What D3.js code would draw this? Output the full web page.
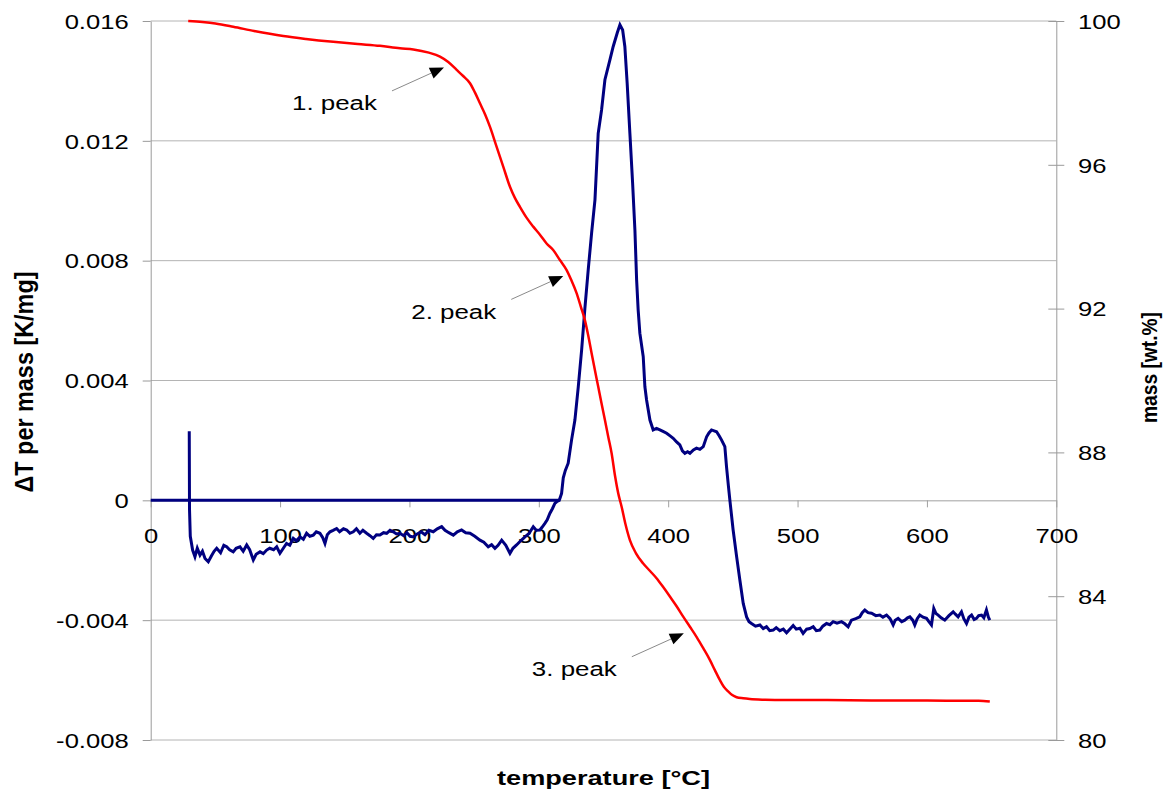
<!DOCTYPE html>
<html><head><meta charset="utf-8">
<script src="https://cdn.jsdelivr.net/npm/d3@7"></script>
<style>
body{margin:0;background:#fff}
svg{display:block}
text{font-family:"Liberation Sans",Arial,Helvetica,sans-serif;fill:#000}
</style>
</head><body>
<svg id="chart" width="1165" height="793"></svg>
<script>
// ---------- data ----------
const tempTicks = [0, 100, 200, 300, 400, 500, 600, 700];
const dtaTicks = [-0.008, -0.004, 0, 0.004, 0.008, 0.012, 0.016];
const dtaTickLabels = ["-0.008", "-0.004", "0", "0.004", "0.008", "0.012", "0.016"];
const massTicks = [80, 84, 88, 92, 96, 100];
const massTickLabels = ["80", "84", "88", "92", "96", "100"];

// DTA signal (ΔT per mass) – temperature / value
const dtaT = [29.8,30.0,30.6,32.4,34.2,36.0,38.1,40.0,42.0,44.5,47.0,49.0,51.0,54.0,56.5,58.7,61.0,63.8,66.0,69.0,71.5,74.2,76.5,79.3,81.5,84.5,87.0,89.6,92.0,95.0,97.4,99.9,102.5,105.0,107.5,110.2,112.5,115.4,118.0,120.5,123.0,125.7,128.0,130.8,133.0,134.7,136.5,138.6,141.0,143.7,146.0,149.0,151.5,154.0,156.6,159.0,161.7,164.0,166.9,169.5,172.0,174.5,177.2,180.0,182.4,185.0,187.5,190.0,192.7,195.5,198.0,200.5,203.0,206.0,209.0,212.0,215.0,218.4,221.5,224.9,227.5,230.5,233.9,237.0,240.3,243.5,246.8,250.5,254.5,257.5,260.9,263.5,266.1,268.5,271.3,274.5,277.7,280.0,282.8,286.0,289.3,292.5,295.7,298.0,300.8,302.5,304.7,306.5,308.6,310.5,312.4,314.0,315.8,317.6,318.9,320.5,322.7,325.3,327.9,330.5,333.1,335.6,338.2,340.8,343.4,345.9,348.5,351.1,355.0,357.5,360.6,362.7,364.8,366.5,368.3,370.4,372.5,374.3,375.6,376.8,378.1,380.7,382.0,383.3,385.9,388.4,391.0,393.6,396.0,398.8,401.5,403.9,406.5,409.0,411.0,412.9,415.0,416.8,419.5,421.9,424.5,427.1,429.7,431.5,433.5,435.5,437.4,439.5,441.3,443.8,445.1,446.5,447.7,450.2,452.9,455.4,458.0,460.6,462.5,464.4,467.5,470.9,473.5,476.0,478.5,481.2,483.5,486.3,489.0,491.5,494.0,496.6,499.0,501.8,504.3,507.0,509.5,512.1,514.5,517.2,519.5,522.4,525.0,527.5,530.5,534.0,536.5,539.1,541.7,545.0,548.1,550.0,552.0,554.5,557.2,560.5,563.6,566.0,568.8,571.5,573.9,575.5,577.7,580.5,582.9,585.0,586.8,589.0,590.6,592.5,594.5,597.0,599.7,601.5,603.5,605.3,607.0,608.7,611.0,613.8,617.0,620.3,622.0,624.1,626.7,628.5,630.6,632.5,634.5,636.5,638.3,640.0,642.2,644.0,646.0,647.5,648.6];
const dtaV = [0.00231,-0.0003,-0.00120,-0.00166,-0.00188,-0.00160,-0.00183,-0.00170,-0.00194,-0.00205,-0.00185,-0.00170,-0.00160,-0.00175,-0.00150,-0.00155,-0.00165,-0.00172,-0.00160,-0.00155,-0.00170,-0.00149,-0.00165,-0.00199,-0.00180,-0.00172,-0.00178,-0.00166,-0.00160,-0.00165,-0.00155,-0.00177,-0.00160,-0.00144,-0.00150,-0.00127,-0.00135,-0.00122,-0.00130,-0.00110,-0.00120,-0.00116,-0.00105,-0.00110,-0.00125,-0.00144,-0.00115,-0.00105,-0.00100,-0.00094,-0.00105,-0.00095,-0.00099,-0.00110,-0.00105,-0.00095,-0.00110,-0.00100,-0.00110,-0.00118,-0.00127,-0.00115,-0.00116,-0.00108,-0.00110,-0.00100,-0.00105,-0.00112,-0.00110,-0.00118,-0.00108,-0.00120,-0.00122,-0.00112,-0.00105,-0.00115,-0.00100,-0.00105,-0.00095,-0.00088,-0.00100,-0.00108,-0.00116,-0.00105,-0.00099,-0.00108,-0.00110,-0.00120,-0.00133,-0.00140,-0.00155,-0.00148,-0.00160,-0.00150,-0.00133,-0.00150,-0.00177,-0.00160,-0.00149,-0.00135,-0.00122,-0.00110,-0.00088,-0.00100,-0.00099,-0.00090,-0.00077,-0.00065,-0.00043,-0.00028,-0.00010,-0.00004,0.00000,0.00023,0.00075,0.00100,0.00124,0.00201,0.00268,0.00379,0.00502,0.00640,0.00770,0.00892,0.01003,0.01225,0.01303,0.01404,0.01471,0.01515,0.01560,0.01587,0.01570,0.01515,0.01392,0.01225,0.01059,0.00900,0.00736,0.00635,0.00558,0.00480,0.00379,0.00335,0.00268,0.00235,0.00240,0.00235,0.00230,0.00224,0.00215,0.00207,0.00195,0.00185,0.00165,0.00157,0.00162,0.00157,0.00168,0.00174,0.00170,0.00179,0.00212,0.00225,0.00235,0.00232,0.00229,0.00215,0.00201,0.00179,0.00112,0.00050,0.00000,-0.00099,-0.00188,-0.00266,-0.00344,-0.00389,-0.00405,-0.00411,-0.00420,-0.00416,-0.00428,-0.00422,-0.00435,-0.00433,-0.00425,-0.00435,-0.00430,-0.00442,-0.00430,-0.00418,-0.00430,-0.00427,-0.00444,-0.00430,-0.00428,-0.00422,-0.00435,-0.00433,-0.00420,-0.00411,-0.00415,-0.00405,-0.00410,-0.00405,-0.00412,-0.00422,-0.00400,-0.00395,-0.00389,-0.00375,-0.00366,-0.00375,-0.00377,-0.00385,-0.00383,-0.00390,-0.00383,-0.00395,-0.00416,-0.00400,-0.00394,-0.00405,-0.00400,-0.00392,-0.00389,-0.00400,-0.00416,-0.00395,-0.00383,-0.00390,-0.00394,-0.00405,-0.00416,-0.00361,-0.00378,-0.00383,-0.00392,-0.00400,-0.00385,-0.00372,-0.00380,-0.00389,-0.00372,-0.00395,-0.00411,-0.00390,-0.00383,-0.00398,-0.00394,-0.00385,-0.00383,-0.00392,-0.00366,-0.00390,-0.00400];

// zero baseline segment of the DTA series
const baseT = [0, 315.8];
const baseV = [0, 0];

// mass (TG) curve
const massT = [29.0,40,50,63.8,80,102.5,120,141.1,160,177.2,192.7,203,215,223.6,230,236.5,241.5,246.8,250.5,254.5,258.5,262.2,267.4,272.5,277.7,281.5,285.4,290.5,295.7,301,306,311.1,316.3,321.5,325,329.2,332.5,335.6,338.2,340.8,343.3,345.9,348.5,351.1,353.7,356.3,358.9,361.4,364.0,367.0,370.4,375.0,380.7,386.0,391.0,396.0,401.3,406.5,411.6,416.8,421.9,427.0,432.2,436.0,439.9,443.0,446.4,449.5,452.9,458,463.1,475,488.9,520,560,600,630,640,648.6];
const massV = [100.00,99.97,99.93,99.84,99.72,99.58,99.50,99.42,99.36,99.31,99.24,99.21,99.12,99.01,98.86,98.64,98.47,98.27,98.02,97.71,97.40,97.06,96.50,95.95,95.39,95.08,94.83,94.53,94.28,94.05,93.81,93.63,93.35,93.07,92.80,92.43,92.05,91.68,91.25,90.76,90.30,89.83,89.36,88.90,88.43,87.97,87.35,86.86,86.49,86.00,85.56,85.20,84.91,84.70,84.50,84.26,83.99,83.72,83.43,83.15,82.87,82.56,82.23,81.95,81.67,81.48,81.35,81.25,81.19,81.16,81.14,81.12,81.11,81.11,81.10,81.10,81.09,81.09,81.07];

// annotations: arrow tips in (temperature, mass) units
const peakLabels = ["1. peak", "2. peak", "3. peak"];
const peakT = [226.7, 318.9, 412.1];
const peakM = [98.71, 92.91, 82.97];

// ---------- layout ----------
const svg = d3.select("#chart");
const L = 150.7, R = 1056.3, T = 21, B = 740;
const FONT = '"Liberation Sans", Arial, Helvetica, sans-serif';
const SX = 1.28; // horizontal stretch of the source picture's text

const x = d3.scaleLinear().domain([0, 700]).range([L, R]);
const yL = d3.scaleLinear().domain([-0.008, 0.016]).range([B, T]);
const yR = d3.scaleLinear().domain([80, 100]).range([B, T]);

function stretch(sel, sx) {
  sel.each(function () {
    const t = d3.select(this);
    const tx = +t.attr("x") || 0, ty = +t.attr("y") || 0;
    t.attr("x", 0).attr("y", 0).attr("transform", `translate(${tx},${ty}) scale(${sx},1)`);
  });
}

// gridlines
svg.append("g").selectAll("line").data(dtaTicks.filter(d => d !== 0)).join("line")
  .attr("x1", L).attr("x2", R)
  .attr("y1", d => yL(d)).attr("y2", d => yL(d))
  .attr("stroke", "#b4b4b4").attr("stroke-width", 1);

// left axis
const gL = svg.append("g").attr("transform", `translate(${L},0)`)
  .call(d3.axisLeft(yL).tickValues(dtaTicks).tickFormat((d, i) => dtaTickLabels[i])
    .tickSize(8).tickSizeOuter(0).tickPadding(14));
gL.attr("font-size", 20).attr("font-family", FONT);
gL.select(".domain").attr("stroke", "#9a9a9a");
gL.selectAll(".tick line").attr("stroke", "#9a9a9a");
gL.selectAll(".tick text").attr("dy", "0.36em");
stretch(gL.selectAll(".tick text"), SX);

// right axis
const gR = svg.append("g").attr("transform", `translate(${R},0)`)
  .call(d3.axisRight(yR).tickValues(massTicks).tickFormat((d, i) => massTickLabels[i])
    .tickSize(8).tickSizeOuter(0).tickPadding(13.7));
gR.attr("font-size", 20).attr("font-family", FONT);
gR.select(".domain").attr("stroke", "#9a9a9a");
gR.selectAll(".tick line").attr("x1", -8).attr("x2", 8).attr("stroke", "#9a9a9a");
gR.selectAll(".tick text").attr("dy", "0.36em");
stretch(gR.selectAll(".tick text"), SX);

// bottom axis at ΔT = 0
const gB = svg.append("g").attr("transform", `translate(0,${yL(0)})`)
  .call(d3.axisBottom(x).tickValues(tempTicks).tickSize(7).tickSizeOuter(0).tickPadding(21.7));
gB.attr("font-size", 20).attr("font-family", FONT);
gB.select(".domain").attr("stroke", "#a0a0a0");
gB.selectAll(".tick line").attr("stroke", "#a0a0a0");
stretch(gB.selectAll(".tick text"), SX);

// series
const lineDta = d3.line().x(i => x(dtaT[i])).y(i => yL(dtaV[i]));
const lineBase = d3.line().x(i => x(baseT[i])).y(i => yL(baseV[i]));
const lineMass = d3.line().x(i => x(massT[i])).y(i => yR(massV[i])).curve(d3.curveMonotoneX);

svg.append("path").attr("d", lineBase(d3.range(baseT.length)))
  .attr("fill", "none").attr("stroke", "#000080").attr("stroke-width", 3);
svg.append("path").attr("d", lineDta(d3.range(dtaT.length)))
  .attr("fill", "none").attr("stroke", "#000080").attr("stroke-width", 3).attr("stroke-linejoin", "miter");
svg.append("path").attr("d", lineMass(d3.range(massT.length)))
  .attr("fill", "none").attr("stroke", "#ff0000").attr("stroke-width", 2.5);

// annotations
const ann = svg.append("g");
peakLabels.forEach((lab, i) => {
  const tx = x(peakT[i]), ty = yR(peakM[i]);
  const sx = tx - 52, sy = ty + 23.5;
  const dx = tx - sx, dy = ty - sy, len = Math.hypot(dx, dy);
  const ux = dx / len, uy = dy / len, hl = 14, hw = 5.8;
  const bx = tx - ux * hl, by = ty - uy * hl;
  ann.append("line").attr("x1", sx).attr("y1", sy).attr("x2", bx).attr("y2", by)
    .attr("stroke", "#8a8a8a").attr("stroke-width", 1);
  ann.append("path")
    .attr("d", `M${tx},${ty}L${bx - uy * hw},${by + ux * hw}L${bx + uy * hw},${by - ux * hw}Z`)
    .attr("fill", "#000");
  ann.append("text").attr("x", tx - 67).attr("y", ty + 43)
    .attr("text-anchor", "end").attr("font-size", 20)
    .attr("textLength", 85).attr("lengthAdjust", "spacingAndGlyphs").text(lab);
});

// axis titles
svg.append("text").attr("x", (L + R) / 2).attr("y", 785)
  .attr("text-anchor", "middle").attr("font-size", 21).attr("font-weight", "bold")
  .attr("textLength", 213).attr("lengthAdjust", "spacingAndGlyphs")
  .text("temperature [°C]");

svg.append("text").attr("transform", `translate(33,382) rotate(-90)`)
  .attr("text-anchor", "middle").attr("font-size", 25).attr("font-weight", "bold")
  .attr("textLength", 221).attr("lengthAdjust", "spacingAndGlyphs")
  .text("ΔT per mass [K/mg]");

svg.append("text").attr("transform", `translate(1157,367.5) rotate(-90)`)
  .attr("text-anchor", "middle").attr("font-size", 22).attr("font-weight", "bold")
  .attr("textLength", 111).attr("lengthAdjust", "spacingAndGlyphs")
  .text("mass [wt.%]");
</script>
</body></html>
